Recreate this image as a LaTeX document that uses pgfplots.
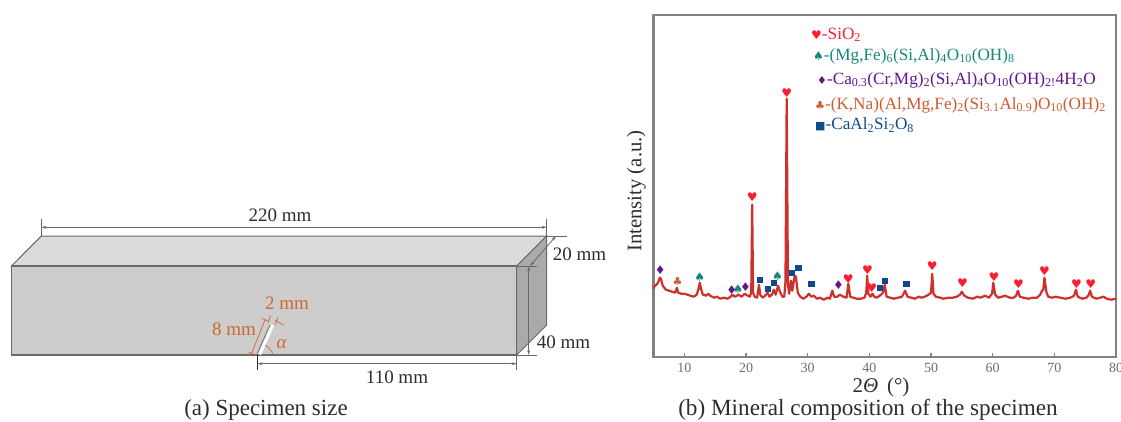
\documentclass[border=0pt]{standalone}
\usepackage{fontspec}
\setmainfont{Liberation Serif}
\newfontfamily\sym{DejaVu Sans}
\usepackage{pgfplots}
\usepackage{pgfplotstable}
\pgfplotsset{compat=1.18}
\usetikzlibrary{arrows.meta}
\newcommand\ft{\fontsize{19}{20}\selectfont}
\newcommand\lgd{\fontsize{17.2}{18}\selectfont}
\definecolor{trace}{RGB}{208,48,44}
\definecolor{hrt}{RGB}{250,30,50}
\definecolor{teal2}{RGB}{20,135,125}
\definecolor{purp}{RGB}{100,20,140}
\definecolor{clubc}{RGB}{205,90,50}
\definecolor{blu}{RGB}{15,75,140}
\definecolor{orng}{RGB}{205,105,45}
\definecolor{lin}{RGB}{105,105,105}
\definecolor{frontc}{RGB}{206,204,205}
\definecolor{topc}{RGB}{219,219,219}
\definecolor{sidec}{RGB}{170,170,170}
\definecolor{framec}{RGB}{130,130,130}
\definecolor{txt}{RGB}{45,45,45}
\pgfplotstableread{
x y
5.0 68
5.2 71
5.5 72
5.8 75
6.0 79
6.2 78
6.5 71
7.0 67
7.5 66
8.0 65
8.5 64
8.8 69
9.0 64
9.5 63
10 63
10.5 62
11 61
11.5 60
12 62
12.3 68
12.5 74
12.7 68
13 62
13.5 61
13.9 63
14.2 61
14.8 59
15.3 60
15.8 58
16.4 59
17 58
17.5 60
17.8 62
18.2 60
18.8 62
19.3 60
19.8 63
20.3 61
20.6 60
20.85 64
21.0 152
21.15 64
21.4 60
21.8 59
22.1 72
22.3 62
22.7 59
23.1 61
23.5 64
23.8 60
24.2 62
24.5 67
24.8 62
25.2 71
25.5 65
25.9 60
26.2 60
26.4 75
26.6 258
26.8 72
27.0 63
27.3 76
27.5 66
27.9 81
28.1 80
28.4 64
28.8 60
29.3 58
29.8 60
30.2 63
30.6 60
31 61
31.5 58
32 59
32.6 57
33.2 59
33.6 58
34 66
34.3 60
34.8 60
35.2 62
35.8 60
36.3 59
36.6 73
36.9 60
37.4 59
38 58
38.6 58
39.2 59
39.5 64
39.65 81
39.85 63
40.2 60
40.5 63
40.8 60
41.2 59
41.7 61
42.2 64
42.5 72
42.8 60
43.4 59
44 58
44.6 59
45.3 60
45.8 66
46.2 60
46.8 59
47.4 58
48 60
48.5 59
49 60
49.6 62
50.0 64
50.2 83
50.4 63
50.8 60
51.5 59
52 58
52.8 59
53.5 59
54.2 60
54.7 62
55.0 65
55.4 61
56 59
56.8 58
57.5 60
58 59
58.8 61
59.4 59
59.9 63
60.1 74
60.4 62
60.9 59
61.5 60
62 61
62.8 59
63.4 59
63.8 61
64.1 66
64.4 60
65 59
65.8 58
66.5 59
67.2 59
67.7 62
68 66
68.2 67
68.4 79
68.7 65
69 60
69.6 59
70.2 60
71 59
71.8 58
72.6 59
73.2 61
73.5 67
73.8 60
74.5 58
75.2 59
75.6 62
75.8 66
76.1 60
76.8 58
77.4 59
78 60
78.5 58
79.2 57
80 58
}\xrdtrace
\pgfplotstableread{
x y
21.0 160
26.6 264
36.6 78
39.7 87
40.4 69
50.2 91
55.1 74
60.2 80
64.2 73
68.4 86
73.6 73
75.9 73
}\heartpts
\pgfplotstableread{
x y
12.5 80
18.7 68
25.1 81
}\spadepts
\pgfplotstableread{
x y
6.1 87
17.7 67
19.9 70
35.0 72
}\diamondpts
\pgfplotstableread{
x y
8.9 75
}\clubpts
\pgfplotstableread{
x y
22.2 77
23.5 68
24.5 74
27.4 84
28.5 89
30.6 73
41.7 69
42.5 76
46.0 73
}\squarepts
\begin{document}
\begin{tikzpicture}[x=1pt,y=1pt]
\begin{axis}[at={(0pt,0pt)},anchor=south west,scale only axis,width=1121pt,height=421pt,
  xmin=0,xmax=1121,ymin=0,ymax=421,y dir=reverse,hide axis,clip=false]
\addplot[fill=topc,draw=lin,line width=1pt] coordinates {(11.5,266)(41.3,236)(546.7,236)(516.7,266)} -- cycle;
\addplot[fill=sidec,draw=lin,line width=1pt] coordinates {(516.7,266)(546.7,236)(546.7,325)(516.7,355)} -- cycle;
\addplot[fill=frontc,draw=lin,line width=1.2pt] coordinates {(11.5,266)(516.7,266)(516.7,355)(11.5,355)} -- cycle;
\addplot[color=white,line width=3.4pt] coordinates {(259.5,354.4)(272.5,325)};
\addplot[color=framec,line width=1.2pt] coordinates {(257.3,353.5)(270,325)};
\addplot[lin,line width=.8pt] coordinates {(41.3,219)(41.3,236)};
\addplot[lin,line width=.8pt] coordinates {(546.7,219)(546.7,236)};
\addplot[lin,line width=.8pt,{Stealth[length=5pt,width=3pt]}-{Stealth[length=5pt,width=3pt]}] coordinates {(41.3,227.3)(546.7,227.3)};
\addplot[lin,line width=.9pt] coordinates {(546.7,236)(567,236)};
\addplot[lin,line width=.9pt] coordinates {(516.7,266)(537,266)};
\addplot[lin,line width=.9pt] coordinates {(516.7,355)(537,355)};
\addplot[lin,line width=.8pt,{Stealth[length=5pt,width=3pt]}-{Stealth[length=5pt,width=3pt]}] coordinates {(528.7,266)(528.7,355)};
\addplot[lin,line width=.8pt,{Stealth[length=5pt,width=3pt]}-{Stealth[length=5pt,width=3pt]}] coordinates {(530,266)(556,236)};
\addplot[txt,line width=1pt] coordinates {(257.5,355)(257.5,370)};
\addplot[lin,line width=.8pt] coordinates {(516.7,355)(516.7,370)};
\addplot[lin,line width=.8pt,{Stealth[length=5pt,width=3pt]}-{Stealth[length=5pt,width=3pt]}] coordinates {(257.5,363.7)(516.7,363.7)};
\addplot[orng,line width=.7pt] coordinates {(251.7,353.3)(265,320)};
\addplot[orng,line width=.7pt] coordinates {(248.5,352)(255,354.8)};
\addplot[orng,line width=.7pt] coordinates {(262,318.5)(269,321.5)};
\addplot[orng,line width=.7pt] coordinates {(275,320)(283.5,325)};
\addplot[orng,line width=.7pt] coordinates {(270.5,315.5)(268,323)};
\addplot[orng,line width=.7pt] coordinates {(278,317.5)(275,325)};
\addplot[orng,line width=.7pt,smooth] coordinates {(272.7,355)(271.5,351)(269,348)(265,345)};
\node[inner sep=0pt,text=orng,anchor=west,font=\ft] at (axis cs:212,329) {8 mm};
\node[inner sep=0pt,text=orng,anchor=west,font=\ft] at (axis cs:265,303) {2 mm};
\node[inner sep=0pt,text=orng,anchor=center,font=\ft] at (axis cs:281.7,344.3) {\textit{α}};
\node[inner sep=0pt,text=txt,anchor=center,font=\ft] at (axis cs:280,215) {220 mm};
\node[inner sep=0pt,text=txt,anchor=west,font=\ft] at (axis cs:552.7,254) {20 mm};
\node[inner sep=0pt,text=txt,anchor=west,font=\ft] at (axis cs:536.7,342.7) {40 mm};
\node[inner sep=0pt,text=txt,anchor=center,font=\ft] at (axis cs:397,377) {110 mm};
\node[inner sep=0pt,text=txt,anchor=center,font=\fontsize{23}{23}\selectfont] at (axis cs:266,410) {(a) Specimen size};
\node[inner sep=0pt,text=txt,anchor=center,font=\fontsize{23.2}{23}\selectfont] at (axis cs:868,410) {(b) Mineral composition of the specimen};
\node[inner sep=0pt,text=txt,anchor=center,rotate=90,font=\fontsize{20.7}{21}\selectfont] at (axis cs:636.5,191) {Intensity (a.u.)};
\node[inner sep=0pt,text=txt,anchor=center,font=\fontsize{21}{21}\selectfont] at (axis cs:881,387) {2\textit{Θ} \,(°)};
\node[inner sep=0pt,anchor=west,text=hrt,font=\lgd] at (axis cs:811,35) {{\sym\fontsize{12}{12}\selectfont ♥}-SiO\textsubscript{2}};
\node[inner sep=0pt,anchor=west,text=teal2,font=\lgd] at (axis cs:813,56) {{\sym\fontsize{12}{12}\selectfont ♠}-(Mg,Fe)\textsubscript{6}(Si,Al)\textsubscript{4}O\textsubscript{10}(OH)\textsubscript{8}};
\node[inner sep=0pt,anchor=west,text=purp,font=\lgd] at (axis cs:817,80) {{\sym\fontsize{11}{12}\selectfont ♦}-Ca\textsubscript{0.3}(Cr,Mg)\textsubscript{2}(Si,Al)\textsubscript{4}O\textsubscript{10}(OH)\textsubscript{2!}4H\textsubscript{2}O};
\node[inner sep=0pt,anchor=west,text=clubc,font=\lgd] at (axis cs:815,105) {{\sym\fontsize{11}{12}\selectfont ♣}-(K,Na)(Al,Mg,Fe)\textsubscript{2}(Si\textsubscript{3.1}Al\textsubscript{0.9})O\textsubscript{10}(OH)\textsubscript{2}};
\node[inner sep=0pt,anchor=west,text=blu,font=\lgd] at (axis cs:815,125) {{\sym\fontsize{11}{12}\selectfont ■}-CaAl\textsubscript{2}Si\textsubscript{2}O\textsubscript{8}};
\end{axis}
\begin{axis}[at={(653.5pt,64.3pt)},anchor=south west,scale only axis,width=462.5pt,height=342pt,
  xmin=5,xmax=80,ymin=0,ymax=342,clip=false,
  axis line style={framec,line width=2.2pt},
  xtick={10,20,...,80},ytick=\empty,
  x tick style={framec,line width=1.2pt},
  major tick length=4pt,tick align=inside,xtick pos=bottom,
  xticklabel style={text=framec!85!black,font=\fontsize{14}{14}\selectfont},
  /pgf/number format/assume math mode=true,
  xticklabel shift=2.5pt]
\addplot[trace,line width=2.2pt,line join=round] table[x=x,y=y] {\xrdtrace};
\addplot[only marks,mark=text,text mark={{\sym\fontsize{12}{12}\selectfont\color{hrt}♥}},text mark as node=true] table[x=x,y=y] {\heartpts};
\addplot[only marks,mark=text,text mark={{\sym\fontsize{12}{12}\selectfont\color{teal2}♠}},text mark as node=true] table[x=x,y=y] {\spadepts};
\addplot[only marks,mark=text,text mark={{\sym\fontsize{12}{12}\selectfont\color{purp}♦}},text mark as node=true] table[x=x,y=y] {\diamondpts};
\addplot[only marks,mark=text,text mark={{\sym\fontsize{11}{11}\selectfont\color{clubc}♣}},text mark as node=true] table[x=x,y=y] {\clubpts};
\addplot[only marks,mark=square*,mark size=2.8pt,mark options={blu,fill=blu}] table[x=x,y=y] {\squarepts};
\end{axis}
\pgfresetboundingbox
\useasboundingbox (0pt,0pt) rectangle (1121pt,421pt);
\end{tikzpicture}
\end{document}
